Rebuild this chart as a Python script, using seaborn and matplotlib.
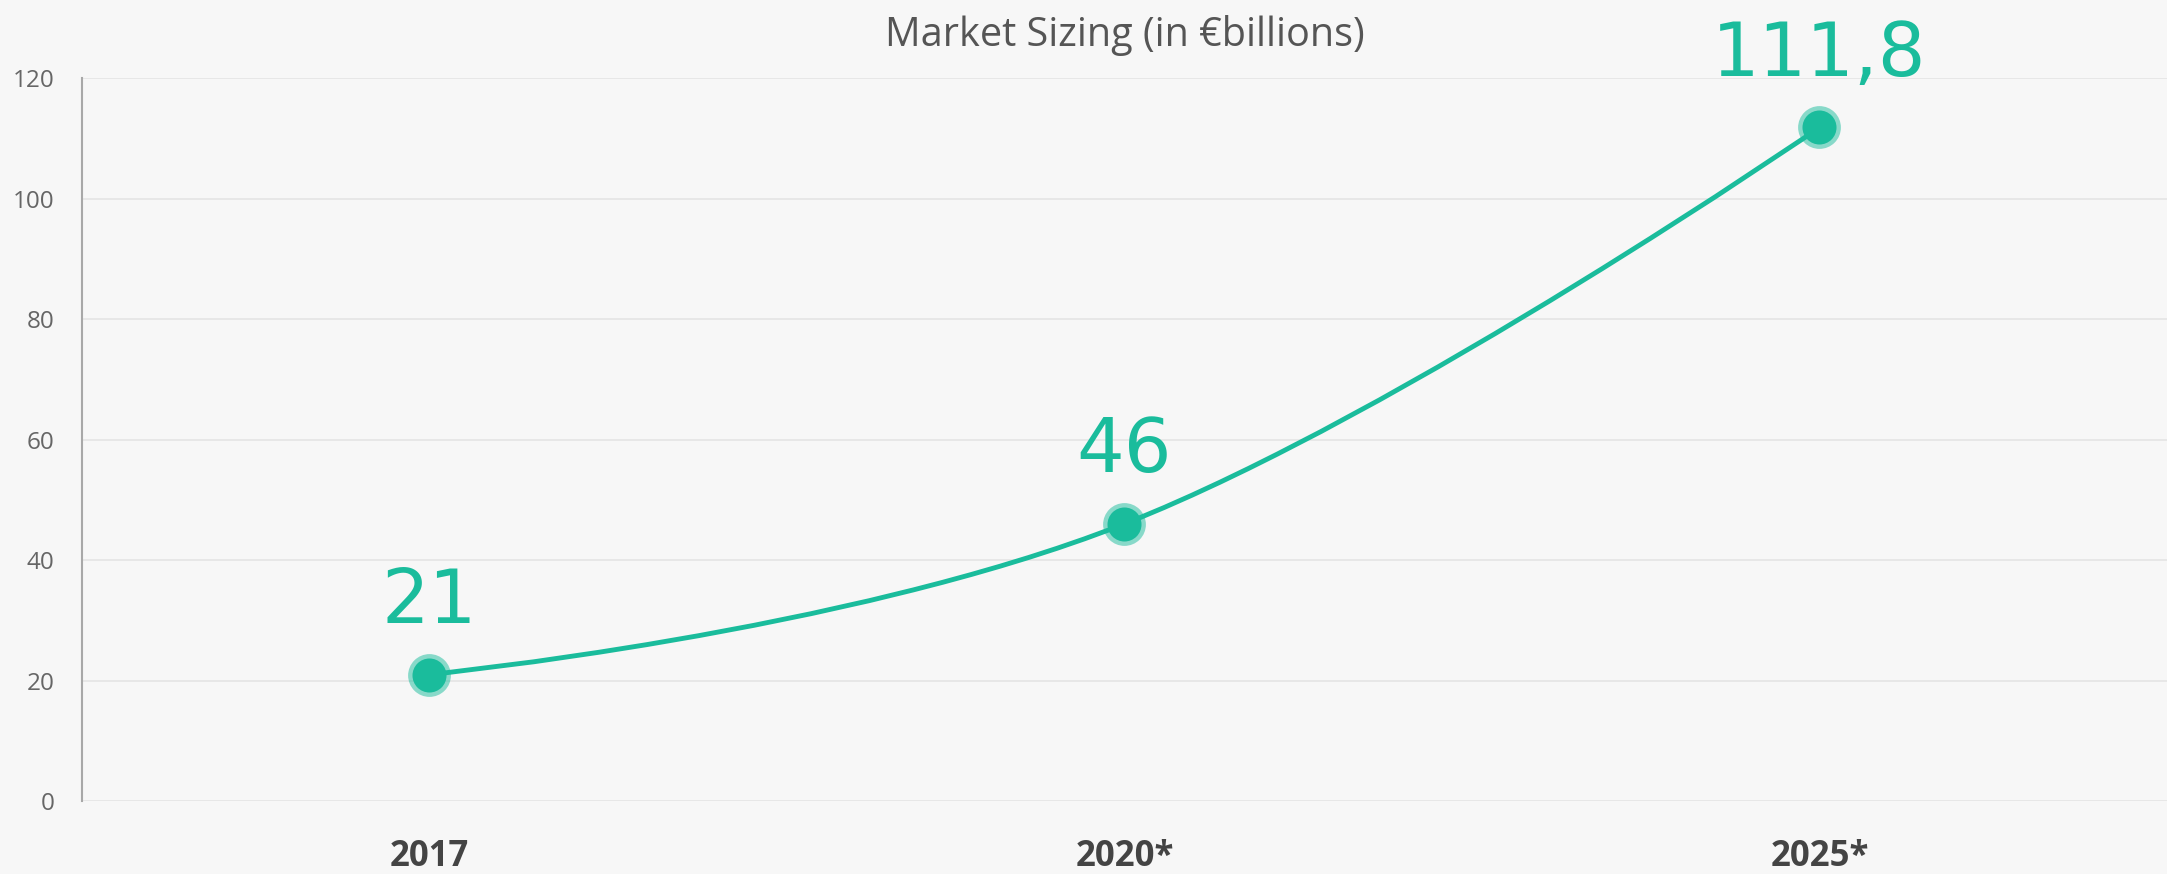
import numpy as np
import matplotlib.pyplot as plt
import seaborn as sb
from matplotlib.path import Path
from matplotlib.patches import PathPatch

#%% Daten

years = ['2017', '2020*', '2025*']
market = [21, 46, 111.8]
value_labels = ['21', '46', '111,8']
y_ticks = [0, 20, 40, 60, 80, 100, 120]

green = '#1abc9c'
bg = '#f7f7f7'

#%% Hilfsfunktion: geglaettete Linie wie im Original (Bezier aus Nachbarpunkten)

def spline_path(x, y, smooth=1.5):
    n = len(x)
    ctrl = []
    for i in range(n):
        if i == 0 or i == n-1:
            ctrl.append(((x[i], y[i]), (x[i], y[i])))
            continue
        d = smooth + 1
        lx = (smooth*x[i] + x[i-1]) / d
        ly = (smooth*y[i] + y[i-1]) / d
        rx = (smooth*x[i] + x[i+1]) / d
        ry = (smooth*y[i] + y[i+1]) / d
        corr = (ry - ly) * (rx - x[i]) / (rx - lx) + y[i] - ry
        ctrl.append(((lx, ly + corr), (rx, ry + corr)))
    verts = [(x[0], y[0])]
    codes = [Path.MOVETO]
    for i in range(1, n):
        verts += [ctrl[i-1][1], ctrl[i][0], (x[i], y[i])]
        codes += [Path.CURVE4]*3
    return Path(verts, codes)

#%% Plot

sb.set_theme(style='white')
plt.rcParams['font.family'] = ['Open Sans', 'DejaVu Sans']

fig = plt.figure(figsize=(21.67, 8.74), dpi=100, facecolor=bg)
ax = fig.add_axes([0.0378, 0.0835, 0.9622, 0.8272], facecolor=bg)

# Halo + Punkt
sb.scatterplot(x=years, y=market, s=950, color=green, alpha=0.5, linewidth=0, zorder=4, ax=ax)
sb.scatterplot(x=years, y=market, s=600, color=green, linewidth=0, zorder=5, ax=ax)

xs = np.arange(len(market))
ax.add_patch(PathPatch(spline_path(xs, market), facecolor='none', edgecolor=green,
                       lw=3.5, zorder=3, capstyle='round'))

for x, y, t in zip(xs, market, value_labels):
    ax.annotate(t, (x, y), xytext=(0, 37), textcoords='offset points', ha='center',
                va='baseline', fontsize=54, color=green, family='DejaVu Sans',
                annotation_clip=False)

ax.set_xlim(-0.5, 2.5)
ax.set_ylim(0, 120)
ax.set_yticks(y_ticks)
ax.set_xlabel('')
ax.set_ylabel('')

ax.yaxis.grid(True, color='#e6e6e6', lw=1.3)
ax.xaxis.grid(False)
ax.set_axisbelow(True)
for s in ['top', 'right', 'bottom']:
    ax.spines[s].set_visible(False)
ax.spines['left'].set_color('#a8a8a8')
ax.spines['left'].set_linewidth(1.5)

ax.tick_params(axis='y', length=0, pad=20, labelsize=17.5, labelcolor='#666666')
ax.tick_params(axis='x', length=0, pad=27, labelsize=25, labelcolor='#444444')
for lab in ax.get_xticklabels():
    lab.set_fontweight('bold')

ax.set_title('Market Sizing (in €billions)', fontsize=28.5, color='#555555', pad=23)

fig.savefig('out.png', dpi=100, facecolor=bg)
